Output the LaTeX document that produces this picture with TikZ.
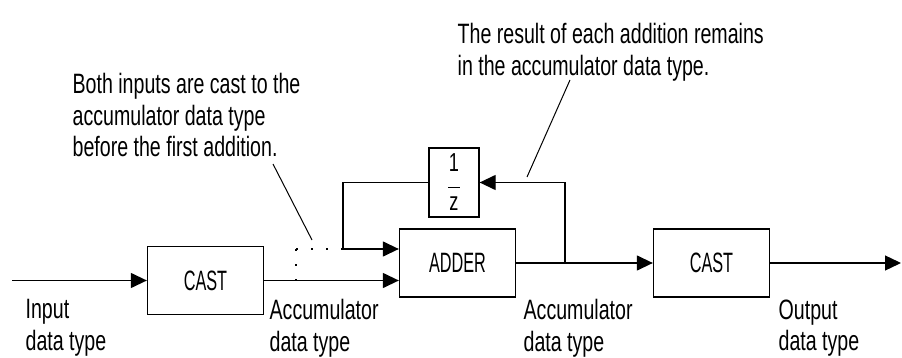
\documentclass[tikz,border=0pt]{standalone}
\usepackage{fontspec}
\setmainfont[FakeStretch=0.7]{Liberation Sans}
\newfontfamily\blockfont[FakeStretch=0.58]{Liberation Sans}
\usetikzlibrary{arrows.meta,calc,positioning}

\begin{document}
\begin{tikzpicture}[x=1pt,y=-1pt,
    font=\fontsize{28}{31.5}\selectfont,
    line width=1.3pt,
    blk/.style={draw, inner sep=0pt, minimum width=116pt, minimum height=68pt,
      font=\blockfont\fontsize{28}{31.5}\selectfont},
    sig/.style={-{Triangle[length=16pt,width=15pt]}},
    lbl/.style={anchor=north west, align=left, inner sep=0pt},
    leader/.style={line width=1pt},
    dots/.style={line width=1.6pt, dash pattern=on 1.6pt off 13.4pt}]
  \useasboundingbox (0,0) rectangle (902,358);

  % blocks
  \node[blk] (cast1) at (205.5,280.5) {CAST};
  \node[blk] (adder) at (457.5,263) {ADDER};
  \node[blk] (cast2) at (711.5,263) {CAST};
  \node[blk, minimum width=50pt, minimum height=69pt,
    font=\fontsize{26}{19.5}\selectfont, align=center]
    (delay) at (454,182.5) {1\\\rule[3.5pt]{12pt}{1.3pt}\\z};

  % signal points
  \coordinate (in) at (12,280.5);
  \coordinate (out) at (901,263);
  \coordinate (tap) at (296,280.5);
  \coordinate (corner) at (296,249);
  \coordinate (dj) at (343,249);
  \coordinate (fb) at (565,263);

  % signals
  \draw[sig] (in) -- (cast1);
  \draw[sig] (cast1.east) -- (cast1.east -| adder.west);
  \draw[sig] (dj) -- (dj -| adder.west);
  \draw (delay.west) -| (dj);
  \draw[sig] (adder.east) -- (cast2.west);
  \draw[sig] (fb) |- (delay.east);
  \draw[sig] (cast2.east) -- (out);
  \draw[dots] (corner) -- (tap);
  \draw[dots] (corner) -- (dj);

  % data type labels
  \node[lbl] (inlbl) at (25,299) {Input\\data type};
  \node[lbl] (acclbl1) at (269,299) {Accumulator\\data type};
  \node[lbl] (acclbl2) at (523,299) {Accumulator\\data type};
  \node[lbl] (outlbl) at (778,299) {Output\\data type};

  % notes
  \node[lbl] (note1) at (72,72.6) {Both inputs are cast to the\\accumulator data type\\before the first addition.};
  \node[lbl] (note2) at (457,22.6) {The result of each addition remains\\in the accumulator data type.};
  \coordinate (lead1s) at (273,164);
  \coordinate (lead1e) at (312,240);
  \coordinate (lead2s) at (570,80);
  \coordinate (lead2e) at (527,177);
  \draw[leader] (lead1s) -- (lead1e);
  \draw[leader] (lead2s) -- (lead2e);
\end{tikzpicture}
\end{document}
